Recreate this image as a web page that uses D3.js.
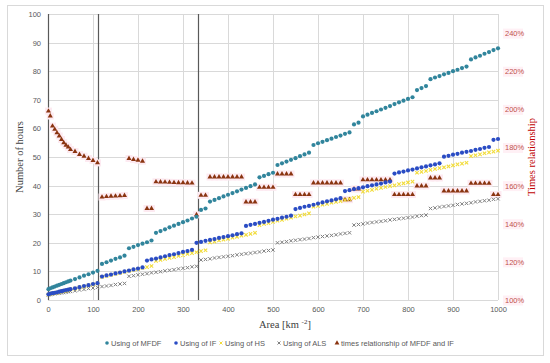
<!DOCTYPE html>
<html>
<head>
<meta charset="utf-8">
<script src="https://cdn.jsdelivr.net/npm/d3@7"></script>
<style>
body{margin:0;background:#fff;}
text{font-family:"Liberation Sans",Arial,sans-serif;}
</style>
</head>
<body>
<svg id="chart" width="550" height="363"></svg>
<script>
// area [km2]
var area = [1,5,10,15,20,25,30,35,40,45,50,
  60,70,80,90,100,110,120,130,140,150,160,170,180,190,200,210,220,230,240,250,260,270,280,290,300,310,320,330,340,350,
  360,370,380,390,400,410,420,430,440,450,460,470,480,490,500,510,520,530,540,550,560,570,580,590,600,610,620,630,640,650,
  660,670,680,690,700,710,720,730,740,750,760,770,780,790,800,810,820,830,840,850,860,870,880,890,900,910,920,930,940,950,
  960,970,980,990,1000];
// number of hours
var mfdf = [3.8,4.1,4.4,4.7,5.0,5.3,5.6,5.9,6.2,6.5,6.8,
  7.3,7.9,8.5,9.0,9.6,10.2,
  12.6,13.2,13.8,14.4,14.9,15.5,
  18.1,18.6,19.2,19.7,20.2,20.8,
  23.5,24.1,24.7,25.4,26.0,26.6,27.2,27.8,28.5,29.1,
  31.5,32.0,
  34.4,35.0,35.6,36.2,36.8,37.4,38.0,38.6,39.2,39.8,40.4,
  42.9,43.4,44.0,44.5,
  47.2,47.8,48.4,49.0,49.6,50.3,50.9,51.5,
  54.2,54.8,55.3,55.9,56.4,57.0,57.5,58.1,58.6,
  61.4,62.0,
  64.2,64.8,65.4,66.0,66.6,67.2,67.8,68.5,69.1,69.7,70.3,70.9,
  73.4,74.1,74.8,
  77.2,77.8,78.3,78.9,79.4,80.0,80.5,81.1,81.6,
  84.1,84.8,85.4,86.1,86.7,87.4,88.0];
var ifHours = [2.0,2.2,2.4,2.5,2.7,2.9,3.1,3.3,3.5,3.6,3.8,
  4.1,4.5,4.9,5.2,5.6,5.9,
  8.2,8.6,8.9,9.3,9.6,10.0,10.3,10.7,11.0,11.4,
  13.8,14.2,14.5,14.9,15.3,15.7,16.0,16.4,16.8,17.1,17.5,
  20.0,20.3,20.7,21.0,21.3,21.7,22.0,22.3,22.6,23.0,23.3,
  25.9,26.3,26.6,27.0,27.3,27.7,28.1,28.4,28.8,29.1,29.5,
  31.8,32.2,32.6,32.9,33.3,33.7,34.1,34.5,34.8,35.2,35.6,
  38.1,38.4,38.8,39.1,39.4,39.8,40.1,40.4,40.7,41.1,41.4,
  44.2,44.6,44.9,45.3,45.6,46.0,46.4,46.7,47.1,47.4,47.8,
  50.1,50.4,50.8,51.1,51.5,51.8,52.1,52.5,52.8,53.2,53.5,
  56.0,56.3];
var hs = [1.9,2.1,2.3,2.4,2.6,2.8,3.0,3.2,3.3,3.5,3.7,
  4.0,4.4,4.7,5.1,5.4,5.8,
  8.1,8.4,8.8,9.1,9.5,9.8,10.2,10.5,10.8,11.2,11.5,11.9,
  13.7,14.0,14.4,14.7,15.0,15.4,15.7,16.1,16.4,16.7,17.1,17.4,
  20.1,20.4,20.8,21.1,21.4,21.8,22.1,22.5,22.8,23.1,23.5,
  26.2,26.6,26.9,27.3,27.7,28.0,28.4,28.8,29.2,29.5,29.9,30.3,
  32.6,32.9,33.3,33.6,34.0,34.3,34.6,35.0,35.3,35.7,36.0,
  37.9,38.2,38.5,38.9,39.2,39.5,39.8,40.1,40.5,40.8,41.1,41.4,
  44.5,44.8,45.1,45.5,45.8,46.1,46.4,46.7,47.1,47.4,47.7,48.0,
  50.3,50.6,50.9,51.3,51.6,51.9,52.2];
var als = [1.8,1.9,2.0,2.2,2.3,2.4,2.5,2.6,2.8,2.9,3.0,
  3.2,3.5,3.7,4.0,4.2,4.4,4.7,4.9,5.1,5.4,5.6,5.8,
  8.3,8.5,8.8,9.0,9.2,9.5,9.7,9.9,10.2,10.4,10.6,10.9,11.1,11.3,11.6,11.8,
  14.0,14.2,14.4,14.7,14.9,15.1,15.3,15.5,15.8,16.0,16.2,16.4,16.6,16.8,17.1,17.3,17.5,
  20.0,20.2,20.4,20.7,20.9,21.1,21.3,21.5,21.8,22.0,22.2,22.4,22.6,22.8,23.1,23.3,23.5,
  26.2,26.4,26.6,26.9,27.1,27.3,27.5,27.7,28.0,28.2,28.4,28.6,28.8,29.0,29.3,29.5,29.7,
  32.0,32.2,32.5,32.7,32.9,33.1,33.4,33.6,33.8,34.0,34.3,34.5,34.7,34.9,35.2,35.4];
// times relationship MFDF / IF  [%]
var ratio = [199.1,196.5,191.2,189.5,187.7,186.0,184.2,182.5,181.2,180.2,178.9,
  177.9,176.3,175.4,174.2,173.2,171.9,
  154.0,154.2,154.4,154.5,154.6,154.8,
  174.2,173.7,173.3,172.8,
  148.0,148.0,
  162.0,161.9,161.8,161.7,161.6,161.5,161.5,161.4,161.3,
  144.7,
  154.9,154.9,
  164.5,164.5,164.5,164.5,164.5,164.5,164.5,164.5,
  151.4,151.4,151.4,
  159.1,159.1,159.1,159.1,
  166.1,166.1,166.1,166.1,
  155.3,155.3,155.3,155.3,
  161.4,161.4,161.4,161.4,161.4,161.4,161.4,
  152.6,152.6,
  158.2,158.2,
  163.0,163.0,163.0,163.0,163.0,163.0,163.0,
  155.3,155.3,155.3,155.3,155.3,
  159.8,159.8,159.8,
  164.0,164.0,164.0,
  157.2,157.2,157.2,157.2,157.2,157.2,
  161.2,161.2,161.2,161.2,161.2,
  155.3,155.3];

var xTicks = [0,100,200,300,400,500,600,700,800,900,1000];
var yTicks = [0,10,20,30,40,50,60,70,80,90,100];
var rTicks = [100,120,140,160,180,200,220,240];
var limitLines = [0,112,333];
var seriesNames = ["Using of MFDF","Using of IF","Using of HS","Using of ALS","times relationship of MFDF and IF"];
var colors = ["#31859c","#2a4cc4","#f2dc3a","#7f7f7f","#8a3410"];

var svg = d3.select("#chart");
var x = d3.scaleLinear().domain([0,1000]).range([48,498]);
var y = d3.scaleLinear().domain([0,100]).range([300,14]);
var yR = d3.scaleLinear().domain([100,250]).range([300,14]);

// chart border
svg.append("rect").attr("x",7.5).attr("y",5.5).attr("width",536).attr("height",350)
  .attr("fill","#fff").attr("stroke","#d9d9d9");

// gridlines
svg.append("g").selectAll("line").data(yTicks).enter().append("line")
  .attr("x1",x(0)).attr("x2",x(1000))
  .attr("y1",function(d){return Math.round(y(d))+0.5;})
  .attr("y2",function(d){return Math.round(y(d))+0.5;})
  .attr("stroke","#d9d9d9");
svg.append("g").selectAll("line").data(xTicks).enter().append("line")
  .attr("y1",y(0)).attr("y2",y(100))
  .attr("x1",function(d){return Math.round(x(d))+0.5;})
  .attr("x2",function(d){return Math.round(x(d))+0.5;})
  .attr("stroke","#d9d9d9");

// axes labels
var axL = svg.append("g").attr("transform","translate(48,0)")
  .call(d3.axisLeft(y).tickValues(yTicks).tickSize(0).tickPadding(7));
var axB = svg.append("g").attr("transform","translate(0,300)")
  .call(d3.axisBottom(x).tickValues(xTicks).tickSize(0).tickPadding(7).tickFormat(d3.format("d")));
var axR = svg.append("g").attr("transform","translate(498,0)")
  .call(d3.axisRight(yR).tickValues(rTicks).tickSize(0).tickPadding(7).tickFormat(function(d){return d+"%";}));
[axL,axB,axR].forEach(function(a){
  a.select(".domain").remove();
  a.selectAll("text").attr("font-size",7.5).attr("fill","#595959")
    .style("font-family","'Liberation Sans',Arial,sans-serif");
});
axR.selectAll("text").attr("fill","#c0504d");
axR.selectAll(".tick").insert("rect","text")
  .attr("x",5).attr("y",-5).attr("width",20).attr("height",10).attr("fill","#fff0f5");

// vertical limit lines
svg.append("g").selectAll("line").data(limitLines).enter().append("line")
  .attr("x1",function(d){return Math.round(x(d))+0.5;})
  .attr("x2",function(d){return Math.round(x(d))+0.5;})
  .attr("y1",y(0)).attr("y2",y(100))
  .attr("stroke","#595959").attr("stroke-width",1.2);

// axis titles
svg.append("text").attr("transform","translate(23,157) rotate(-90)")
  .attr("text-anchor","middle").attr("font-size",10.5).attr("fill","#404040")
  .style("font-family","'Liberation Serif','Times New Roman',serif").text("Number of hours");
var xt = svg.append("text").attr("x",285).attr("y",328).attr("text-anchor","middle")
  .attr("font-size",10.5).attr("fill","#404040")
  .style("font-family","'Liberation Serif','Times New Roman',serif");
xt.append("tspan").text("Area [km ");
xt.append("tspan").attr("font-size",7).attr("dy",-4).text("-2");
xt.append("tspan").attr("dy",4).text("]");
svg.append("text").attr("transform","translate(535,157) rotate(-90)")
  .attr("text-anchor","middle").attr("font-size",10.5).attr("fill","#c00000")
  .style("font-family","'Liberation Serif','Times New Roman',serif").text("Times relationship");

var crossPath = "M-1.7,-1.7L1.7,1.7M-1.7,1.7L1.7,-1.7";
var tri = d3.symbol().type(d3.symbolTriangle).size(11);

// ratio halos
var gTri = svg.append("g");
gTri.selectAll("rect").data(area).enter().append("rect")
  .attr("x",function(d){return x(d)-3.5;})
  .attr("y",function(d,i){return yR(ratio[i])-3.5;})
  .attr("width",7).attr("height",7).attr("fill","#fdeaf1");

// ALS
svg.append("g").selectAll("path").data(area).enter().append("path")
  .attr("transform",function(d,i){return "translate("+x(d)+","+y(als[i])+")";})
  .attr("d",crossPath).attr("stroke",colors[3]).attr("stroke-width",1).attr("fill","none");
// HS
svg.append("g").selectAll("path").data(area).enter().append("path")
  .attr("transform",function(d,i){return "translate("+x(d)+","+y(hs[i])+")";})
  .attr("d",crossPath).attr("stroke",colors[2]).attr("stroke-width",1.1).attr("fill","none");
// IF
svg.append("g").selectAll("circle").data(area).enter().append("circle")
  .attr("cx",function(d){return x(d);})
  .attr("cy",function(d,i){return y(ifHours[i]);})
  .attr("r",2.1).attr("fill",colors[1]);
// MFDF
svg.append("g").selectAll("circle").data(area).enter().append("circle")
  .attr("cx",function(d){return x(d);})
  .attr("cy",function(d,i){return y(mfdf[i]);})
  .attr("r",2.1).attr("fill",colors[0]);
// ratio
gTri.selectAll("path").data(area).enter().append("path")
  .attr("transform",function(d,i){return "translate("+x(d)+","+yR(ratio[i])+")";})
  .attr("d",tri).attr("fill",colors[4]);

// legend
var legX = [107,176,221,279,337];
var leg = svg.append("g").selectAll("g").data(seriesNames).enter().append("g")
  .attr("transform",function(d,i){return "translate("+legX[i]+",343)";});
leg.each(function(d,i){
  var g = d3.select(this);
  if(i<2) g.append("circle").attr("r",1.8).attr("fill",colors[i]);
  else if(i<4) g.append("path").attr("d","M-1.5,-1.5L1.5,1.5M-1.5,1.5L1.5,-1.5").attr("stroke",colors[i]).attr("fill","none");
  else g.append("path").attr("d",d3.symbol().type(d3.symbolTriangle).size(10)).attr("fill",colors[4]);
  g.append("text").attr("x",4).attr("y",2.6).attr("font-size",7.5).attr("fill","#595959").text(d);
});
</script>
</body>
</html>
